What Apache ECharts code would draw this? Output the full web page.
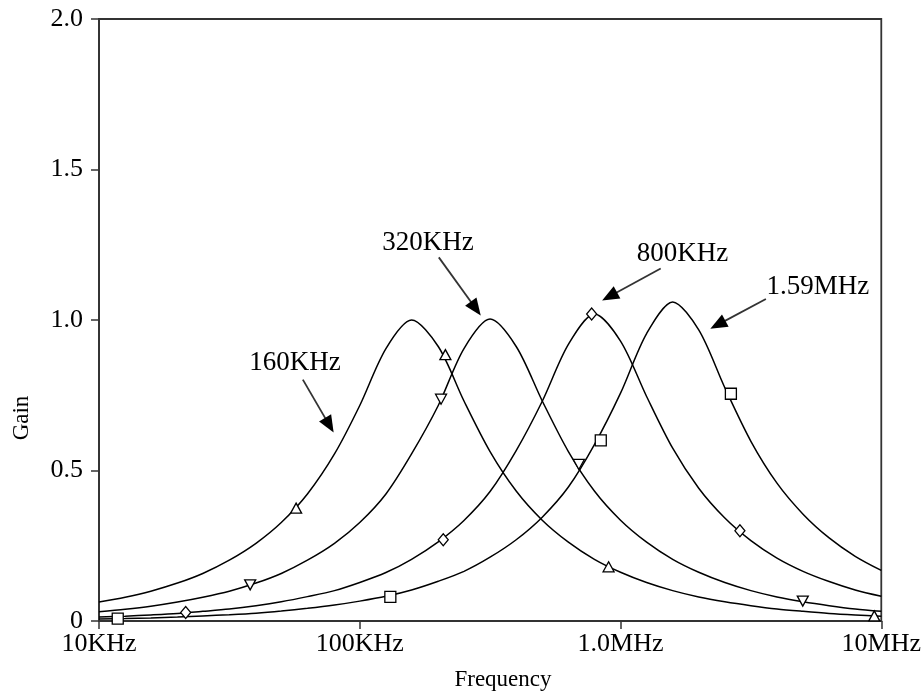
<!DOCTYPE html>
<html><head><meta charset="utf-8">
<script src="https://cdn.jsdelivr.net/npm/echarts@6/dist/echarts.min.js"></script>
<style>html,body{margin:0;padding:0;background:#fff}#c{width:924px;height:697px}</style>
</head><body><div id="c"></div>
<script>
// Frequency grid in kHz
const freqKHz = [10, 12.6, 15.8, 20, 25, 31.6, 40, 50, 63, 80, 100, 126, 158, 200, 251, 316, 398, 501, 631, 794, 1000, 1259, 1585, 1995, 2512, 3162, 3981, 5012, 6310, 7943, 10000];
// Gain readings per curve
const gain160K = [0.063, 0.079, 0.099, 0.126, 0.158, 0.202, 0.258, 0.327, 0.422, 0.555, 0.716, 0.905, 1.0, 0.912, 0.731, 0.563, 0.432, 0.335, 0.262, 0.205, 0.162, 0.128, 0.101, 0.080, 0.064, 0.051, 0.040, 0.032, 0.025, 0.020, 0.016];
const gain320K = [0.031, 0.039, 0.049, 0.063, 0.079, 0.099, 0.126, 0.158, 0.202, 0.258, 0.327, 0.422, 0.555, 0.716, 0.905, 1.003, 0.912, 0.731, 0.563, 0.432, 0.335, 0.262, 0.205, 0.162, 0.128, 0.101, 0.080, 0.064, 0.051, 0.040, 0.032];
const gain800K = [0.013, 0.016, 0.020, 0.025, 0.032, 0.040, 0.051, 0.064, 0.081, 0.101, 0.128, 0.161, 0.205, 0.263, 0.334, 0.430, 0.566, 0.730, 0.919, 1.02, 0.930, 0.746, 0.574, 0.441, 0.342, 0.267, 0.209, 0.165, 0.131, 0.103, 0.082];
const gain159M = [0.007, 0.008, 0.010, 0.013, 0.017, 0.021, 0.026, 0.033, 0.042, 0.053, 0.066, 0.082, 0.103, 0.132, 0.165, 0.212, 0.270, 0.345, 0.445, 0.586, 0.757, 0.955, 1.06, 0.967, 0.775, 0.597, 0.458, 0.355, 0.276, 0.215, 0.168];
// Marker points [kHz, gain]
const mark160K = [[57, 0.375], [213, 0.885], [900, 0.18], [9400, 0.017]];
const mark320K = [[38, 0.12], [205, 0.737], [692, 0.52], [5000, 0.066]];
const mark800K = [[21.5, 0.028], [209, 0.27], [775, 1.02], [2870, 0.30]];
const mark159M = [[11.8, 0.008], [131, 0.08], [840, 0.60], [2650, 0.755]];
// Tick labels
const xTickValues = [10, 100, 1000, 10000];
const xTickLabels = ['10KHz', '100KHz', '1.0MHz', '10MHz'];
const yTickValues = [0, 0.5, 1.0, 1.5, 2.0];
const yTickLabels = ['0', '0.5', '1.0', '1.5', '2.0'];
// Annotations (data coordinates)
const annotLabels = ['160KHz', '320KHz', '800KHz', '1.59MHz'];
const annotTextAt = [[56.4, 0.859], [182.8, 1.257], [1730, 1.218], [5710, 1.111]];
const arrowFrom = [[60.5, 0.802], [201, 1.208], [1426, 1.171], [3610, 1.07]];
const arrowTo = [[79.4, 0.626], [291, 1.015], [850, 1.065], [2210, 0.971]];

const FONT = '"Liberation Serif", "Times New Roman", serif';
const chart = echarts.init(document.getElementById('c'), null, {renderer: 'canvas'});
const pairs = (ys) => freqKHz.map((f, i) => [f, ys[i]]);
const lineSeries = (ys) => ({type: 'line', data: pairs(ys), showSymbol: false, smooth: 0.3,
  lineStyle: {color: '#000', width: 1.5}, z: 2, silent: true});
const markSeries = (pts, symbol, size, rot) => ({type: 'scatter', data: pts, symbol: symbol, symbolSize: size,
  symbolRotate: rot || 0, itemStyle: {color: '#fff', borderColor: '#000', borderWidth: 1.3, opacity: 1}, z: 5, silent: true});

chart.setOption({
  animation: false,
  backgroundColor: '#fff',
  grid: {left: 99, right: 38, top: 19, bottom: 76, show: true, borderColor: '#333', borderWidth: 1.8, backgroundColor: 'transparent'},
  xAxis: {type: 'log', logBase: 10, min: 10, max: 10000,
    axisLine: {show: true, lineStyle: {color: '#333', width: 1.8}},
    axisTick: {show: true, inside: false, length: 8, lineStyle: {color: '#333', width: 1.5}},
    minorTick: {show: false}, splitLine: {show: false},
    axisLabel: {margin: 10, color: '#000', fontFamily: FONT, fontSize: 26,
      formatter: (v) => { const i = xTickValues.findIndex(t => Math.abs(t - v) / t < 1e-6); return i >= 0 ? xTickLabels[i] : ''; }}},
  yAxis: {type: 'value', min: 0, max: 2, interval: 0.5,
    axisLine: {show: true, lineStyle: {color: '#333', width: 1.8}},
    axisTick: {show: true, inside: false, length: 8, lineStyle: {color: '#333', width: 1.5}},
    splitLine: {show: false},
    axisLabel: {margin: 16, color: '#000', fontFamily: FONT, fontSize: 26,
      formatter: (v) => { const i = yTickValues.findIndex(t => Math.abs(t - v) < 1e-6); return i >= 0 ? yTickLabels[i] : ''; }}},
  series: [
    lineSeries(gain160K), lineSeries(gain320K), lineSeries(gain800K), lineSeries(gain159M),
    markSeries(mark160K, 'triangle', [11, 10]),
    markSeries(mark320K, 'triangle', [11, 10], 180),
    markSeries(mark800K, 'diamond', [10, 12]),
    markSeries(mark159M, 'rect', [11, 11])
  ]
});

const g = [];
for (let i = 0; i < annotLabels.length; i++) {
  const t = chart.convertToPixel({gridIndex: 0}, annotTextAt[i]);
  g.push({type: 'text', x: t[0], y: t[1], style: {text: annotLabels[i], font: '27px ' + FONT, fill: '#000', align: 'center', verticalAlign: 'middle'}, z: 10});
  const p1 = chart.convertToPixel({gridIndex: 0}, arrowFrom[i]);
  const p2 = chart.convertToPixel({gridIndex: 0}, arrowTo[i]);
  const dx = p2[0] - p1[0], dy = p2[1] - p1[1], len = Math.hypot(dx, dy);
  const ux = dx / len, uy = dy / len, nx = -uy, ny = ux, L = 17, W = 7;
  const bx = p2[0] - ux * L, by = p2[1] - uy * L;
  g.push({type: 'line', shape: {x1: p1[0], y1: p1[1], x2: bx + ux * 2, y2: by + uy * 2}, style: {stroke: '#333', lineWidth: 1.8}, z: 10});
  g.push({type: 'polygon', shape: {points: [[p2[0], p2[1]], [bx + nx * W, by + ny * W], [bx - nx * W, by - ny * W]]}, style: {fill: '#000'}, z: 10});
}
g.push({type: 'text', x: 503, y: 680, style: {text: 'Frequency', font: '23px ' + FONT, fill: '#000', align: 'center', verticalAlign: 'middle'}});
g.push({type: 'text', x: 22, y: 418, rotation: Math.PI / 2, style: {text: 'Gain', font: '23px ' + FONT, fill: '#000', align: 'center', verticalAlign: 'middle'}});
chart.setOption({graphic: g});
</script>
</body></html>
